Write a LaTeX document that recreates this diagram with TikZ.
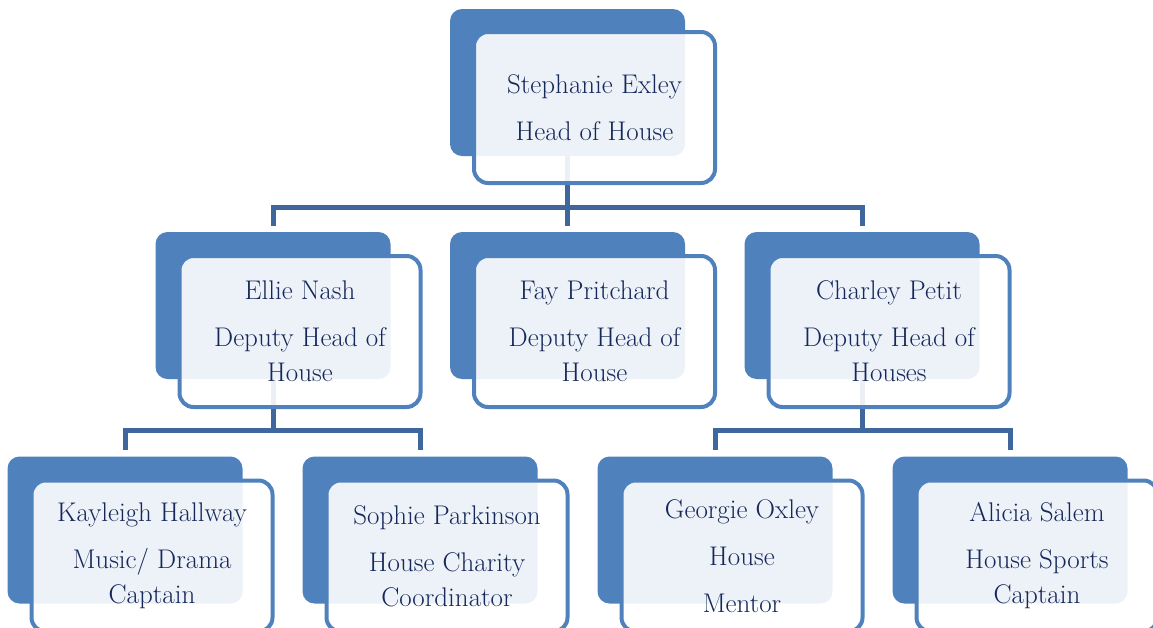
\documentclass[tikz,border=0pt]{standalone}
\usepackage{fontspec}
\usepackage{tikz}
\usetikzlibrary{positioning}
\definecolor{boxblue}{RGB}{79,129,189}
\definecolor{linkblue}{RGB}{62,104,157}
\definecolor{namenavy}{RGB}{22,40,90}
\tikzset{back/.style={rectangle, rounded corners=12pt, fill=boxblue,
                      minimum width=235pt, minimum height=147pt, inner sep=0pt},
         front/.style={rectangle, rounded corners=14pt, draw=boxblue, line width=4pt,
                       fill=white, fill opacity=0.9, text opacity=1, text=namenavy,
                       minimum width=241pt, minimum height=151pt, align=center,
                       font=\fontsize{27}{35}\selectfont},
         link/.style={draw=linkblue, line width=5pt, shorten >=6pt}}
\begin{document}
\begin{tikzpicture}[x=1pt,y=-1pt]
\useasboundingbox (0,0) rectangle (1153,627);
\node[back] (hoh) at (567.5,82.5) {};
\node[back] (ellie) at (273,305.5) {};
\node[back] (fay) at (567.5,305.5) {};
\node[back] (charley) at (862,305.5) {};
\node[back] (kayleigh) at (125,530) {};
\node[back] (sophie) at (420,530) {};
\node[back] (georgie) at (715,530) {};
\node[back] (alicia) at (1010,530) {};
\draw[link] (hoh.south) -- ++(0,51) -| (ellie.north);
\draw[link] (hoh.south) -- (fay.north);
\draw[link] (hoh.south) -- ++(0,51) -| (charley.north);
\draw[link] (ellie.south) -- ++(0,51) -| (kayleigh.north);
\draw[link] (ellie.south) -- ++(0,51) -| (sophie.north);
\draw[link] (charley.south) -- ++(0,51) -| (georgie.north);
\draw[link] (charley.south) -- ++(0,51) -| (alicia.north);
\node[front] (hohtext) at ([shift={(27,25)}]hoh.center) {Stephanie Exley\\[12pt]Head of House};
\node[front] (ellietext) at ([shift={(27,26)}]ellie.center) {Ellie Nash\\[12pt]Deputy Head of\\House};
\node[front] (faytext) at ([shift={(27,26)}]fay.center) {Fay Pritchard\\[12pt]Deputy Head of\\House};
\node[front] (charleytext) at ([shift={(27,26)}]charley.center) {Charley Petit\\[12pt]Deputy Head of\\Houses};
\node[front] (kayleightext) at ([shift={(27,26)}]kayleigh.center) {Kayleigh Hallway\\[12pt]Music/ Drama\\Captain};
\node[front] (sophietext) at ([shift={(27,26)}]sophie.center) {Sophie Parkinson\\[12pt]House Charity\\Coordinator};
\node[front] (georgietext) at ([shift={(27,26)}]georgie.center) {Georgie Oxley\\[12pt]House\\[12pt]Mentor};
\node[front] (aliciatext) at ([shift={(27,26)}]alicia.center) {Alicia Salem\\[12pt]House Sports\\Captain};
\end{tikzpicture}
\end{document}
